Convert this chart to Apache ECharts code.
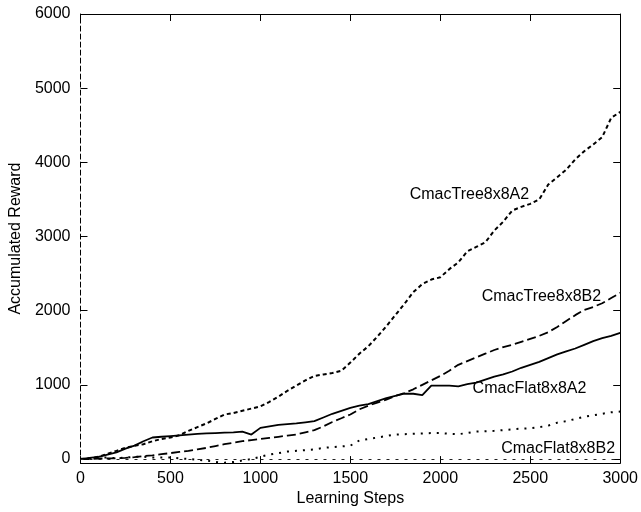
<!DOCTYPE html>
<html>
<head>
<meta charset="utf-8">
<script src="https://cdn.jsdelivr.net/npm/echarts@6/dist/echarts.min.js"></script>
<style>
  html, body { margin: 0; padding: 0; background: #fff; }
  #chart { width: 641px; height: 512px; }
</style>
</head>
<body>
<div id="chart"></div>
<script>
// learning steps, every 50
var steps = [];
for (var s = 0; s <= 3000; s += 50) steps.push(s);

var treeA2 = [0, 10, 30, 70, 110, 150, 180, 200, 240, 270, 290, 320, 380, 430, 480, 540, 600, 620, 650, 680,
  710, 770, 840, 920, 990, 1060, 1120, 1140, 1160, 1190, 1300, 1420, 1520, 1650, 1790, 1940, 2090, 2250, 2360, 2420,
  2450, 2560, 2650, 2800, 2860, 2920, 3080, 3200, 3350, 3400, 3440, 3500, 3700, 3800, 3900, 4040, 4150, 4240, 4340, 4600,
  4680];
var treeB2 = [0, 0, 5, 10, 10, 15, 25, 40, 50, 65, 80, 95, 110, 130, 150, 175, 200, 220, 240, 255,
  270, 285, 300, 315, 330, 360, 390, 440, 500, 550, 600, 670, 720, 760, 800, 850, 890, 940, 1000, 1060,
  1120, 1190, 1270, 1320, 1370, 1420, 1470, 1510, 1540, 1580, 1620, 1660, 1710, 1780, 1860, 1940, 2010, 2050, 2100, 2170,
  2240];
var flatA2 = [0, 15, 30, 60, 90, 140, 180, 240, 290, 300, 310, 320, 330, 340, 345, 350, 355, 360, 370, 330,
  420, 440, 460, 470, 480, 495, 510, 560, 610, 650, 690, 720, 740, 780, 820, 850, 880, 880, 860, 990,
  990, 990, 980, 1010, 1030, 1070, 1110, 1140, 1180, 1230, 1270, 1310, 1360, 1410, 1450, 1490, 1540, 1590, 1630, 1660,
  1700];
var flatB2 = [0, 10, 20, 20, 10, 20, 30, 30, 20, 20, 20, 10, 0, -10, -20, -40, -50, -40, -20, 0,
  30, 60, 80, 100, 110, 120, 130, 150, 160, 170, 180, 250, 270, 290, 310, 330, 335, 340, 345, 350,
  350, 340, 335, 350, 370, 375, 380, 390, 400, 410, 415, 430, 450, 490, 510, 540, 570, 590, 610, 630,
  640];

var names = ['CmacTree8x8A2', 'CmacTree8x8B2', 'CmacFlat8x8A2', 'CmacFlat8x8B2'];
var yTicks = [0, 1000, 2000, 3000, 4000, 5000, 6000];

function pairs(vals) {
  return steps.map(function (x, i) { return [x, vals[i]]; });
}

var font = 'Liberation Sans, Arial, sans-serif';
var fs = 16;
var chart = echarts.init(document.getElementById('chart'), null, {renderer: 'canvas'});

function tag(name, x, y) {
  return {
    silent: true,
    symbolSize: 0,
    data: [{coord: [x, y]}],
    label: {show: true, position: 'inside', formatter: name, color: '#000', fontFamily: font, fontSize: fs}
  };
}

function plain(v) { return String(v); }

var option = {
  animation: false,
  backgroundColor: '#fff',
  grid: {left: 73, right: 20, top: 14, bottom: 45},
  xAxis: [{
    type: 'value', min: 0, max: 3000, interval: 500,
    name: 'Learning Steps', nameLocation: 'middle', nameGap: 21,
    nameTextStyle: {color: '#000', fontFamily: font, fontSize: fs},
    axisLine: {show: true, onZero: false, lineStyle: {color: '#000', width: 1}},
    axisTick: {show: true, inside: true, length: 7, lineStyle: {color: '#000'}},
    axisLabel: {color: '#000', fontFamily: font, fontSize: fs, margin: 7, formatter: plain},
    splitLine: {show: false}
  }, {
    type: 'value', position: 'top', min: 0, max: 3000, interval: 500,
    axisLine: {show: true, onZero: false, lineStyle: {color: '#000', width: 1}},
    axisTick: {show: true, inside: true, length: 7, lineStyle: {color: '#000'}},
    axisLabel: {show: false},
    splitLine: {show: false}
  }],
  yAxis: [{
    type: 'value', min: -55, max: 6000,
    name: 'Accumulated Reward', nameLocation: 'middle', nameGap: 55,
    nameTextStyle: {color: '#000', fontFamily: font, fontSize: fs},
    axisLine: {show: true, onZero: false, lineStyle: {color: '#000', width: 1, type: [5, 3]}},
    axisTick: {show: true, inside: true, length: 7, customValues: yTicks, lineStyle: {color: '#000'}},
    axisLabel: {color: '#000', fontFamily: font, fontSize: fs, margin: 10, customValues: yTicks, formatter: plain},
    splitLine: {show: false}
  }, {
    type: 'value', position: 'right', min: -55, max: 6000,
    axisLine: {show: true, onZero: false, lineStyle: {color: '#000', width: 1}},
    axisTick: {show: true, inside: true, length: 7, customValues: yTicks, lineStyle: {color: '#000'}},
    axisLabel: {show: false},
    splitLine: {show: false}
  }],
  series: [{
    name: names[0], type: 'line', showSymbol: false, data: pairs(treeA2),
    lineStyle: {color: '#000', width: 2, type: [4, 3]},
    markPoint: tag(names[0], 2162, 3568)
  }, {
    name: names[1], type: 'line', showSymbol: false, data: pairs(treeB2),
    lineStyle: {color: '#000', width: 1.8, type: [9, 4]},
    markPoint: tag(names[1], 2562, 2191)
  }, {
    name: names[2], type: 'line', showSymbol: false, data: pairs(flatA2),
    lineStyle: {color: '#000', width: 1.8},
    markPoint: tag(names[2], 2496, 948)
  }, {
    name: names[3], type: 'line', showSymbol: false, data: pairs(flatB2),
    lineStyle: {color: '#000', width: 2, type: [2, 6]},
    markPoint: tag(names[3], 2655, 146),
    markLine: {
      silent: true, symbol: 'none', label: {show: false},
      lineStyle: {color: '#222', width: 1, type: [3, 6]},
      data: [{yAxis: 0}]
    }
  }]
};

option && chart.setOption(option);
</script>
</body>
</html>
